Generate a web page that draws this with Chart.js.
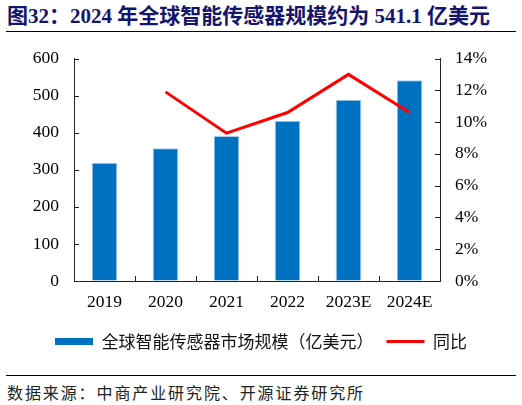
<!DOCTYPE html>
<html>
<head>
<meta charset="utf-8">
<script src="https://cdn.jsdelivr.net/npm/chart.js@4/dist/chart.umd.min.js"></script>
<style>
    body { margin: 0; width: 522px; height: 405px; background: #fff; position: relative; overflow: hidden; }
    #title { position: absolute; left: 7px; top: 3px; font: bold 21px "Liberation Serif", "Noto Sans CJK SC"; color: #14146e; white-space: nowrap; line-height: 26px; }
    .rule { position: absolute; left: 6px; width: 510px; height: 0; border-top: 1.5px solid #000; }
    #chartbox { position: absolute; left: 0; top: 33px; width: 522px; height: 327px; }
    #source { position: absolute; left: 7px; top: 383px; font: 16px "Noto Sans CJK SC"; letter-spacing: 1.9px; color: #222; white-space: nowrap; line-height: 18px; }
</style>
</head>
<body>
<div id="title">图32：2024 年全球智能传感器规模约为 541.1 亿美元</div>
<div class="rule" style="top:31px"></div>
<div id="chartbox"><canvas id="grafico"></canvas></div>
<div class="rule" style="top:375px"></div>
<div id="source">数据来源：中商产业研究院、开源证券研究所</div>
<script>
var categorias = ['2019', '2020', '2021', '2022', '2023E', '2024E'];
var mercado = [319, 358, 391, 432, 489, 541.1];
var crecimiento = [null, 11.9, 9.3, 10.6, 13.0, 10.6];
var ticksIzq = [0, 100, 200, 300, 400, 500, 600];
var ticksDer = [0, 2, 4, 6, 8, 10, 12, 14];

var colorEje = '#222';
var fuenteEje = { family: 'Liberation Serif', size: 17.5 };

// marcas cortas hacia dentro del area, como en la figura original
var marcasInternas = {
    id: 'marcasInternas',
    afterDraw: function (chart) {
        var ctx = chart.ctx;
        var a = chart.chartArea;
        var x = chart.scales.x, y = chart.scales.y, y1 = chart.scales.y1;
        ctx.save();
        ctx.strokeStyle = colorEje;
        ctx.lineWidth = 1;
        ctx.beginPath();
        y.ticks.forEach(function (t) {
            var p = Math.round(y.getPixelForValue(t.value)) + 0.5;
            ctx.moveTo(a.left, p);
            ctx.lineTo(a.left + 5, p);
        });
        y1.ticks.forEach(function (t) {
            var p = Math.round(y1.getPixelForValue(t.value)) + 0.5;
            ctx.moveTo(a.right, p);
            ctx.lineTo(a.right - 5, p);
        });
        for (var i = 1; i < categorias.length; i++) {
            var p = Math.round((x.getPixelForTick(i - 1) + x.getPixelForTick(i)) / 2) + 0.5;
            ctx.moveTo(p, a.bottom);
            ctx.lineTo(p, a.bottom - 5);
        }
        ctx.stroke();
        ctx.restore();
    }
};

var ctx = document.getElementById('grafico').getContext('2d');
var grafico = new Chart(ctx, {
    data: {
        labels: categorias,
        datasets: [{
            type: 'bar',
            label: '全球智能传感器市场规模（亿美元）',
            data: mercado,
            yAxisID: 'y',
            backgroundColor: '#0070C0',
            borderColor: '#A9CDEB',
            borderWidth: 1,
            categoryPercentage: 1,
            barPercentage: 0.42,
            order: 1
        }, {
            type: 'line',
            label: '同比',
            data: crecimiento,
            yAxisID: 'y1',
            borderColor: '#FF0000',
            backgroundColor: '#FF0000',
            borderWidth: 3,
            pointRadius: 0,
            tension: 0,
            order: 0
        }]
    },
    options: {
        responsive: true,
        maintainAspectRatio: false,
        animation: false,
        layout: { padding: { top: 17, left: 0, right: 0, bottom: 0 } },
        plugins: {
            tooltip: { enabled: false },
            legend: {
                position: 'bottom',
                labels: {
                    font: { family: 'Noto Sans CJK SC', size: 17 },
                    color: '#111',
                    padding: 13,
                    boxHeight: 7,
                    usePointStyle: true,
                    pointStyleWidth: 38,
                    sort: function (a, b) { return a.datasetIndex - b.datasetIndex; },
                    generateLabels: function (chart) {
                        var items = Chart.defaults.plugins.legend.labels.generateLabels(chart);
                        items.forEach(function (it) {
                            if (it.datasetIndex === 0) {
                                it.pointStyle = 'rect';
                                it.lineWidth = 0;
                            } else {
                                it.pointStyle = 'line';
                                it.lineWidth = 3;
                                it.strokeStyle = '#FF0000';
                            }
                        });
                        return items;
                    }
                }
            }
        },
        scales: {
            x: {
                grid: { drawOnChartArea: false, drawTicks: false },
                border: { color: colorEje, width: 1 },
                ticks: { font: fuenteEje, color: '#000', padding: 11, maxRotation: 0 },
                afterFit: function (s) { s.height = 39; }
            },
            y: {
                position: 'left',
                min: 0,
                max: 600,
                grid: { drawOnChartArea: false, drawTicks: false },
                border: { color: colorEje, width: 1 },
                ticks: { font: fuenteEje, color: '#000', padding: 15 },
                afterBuildTicks: function (s) { s.ticks = ticksIzq.map(function (v) { return { value: v }; }); },
                afterFit: function (s) { s.width = 74; }
            },
            y1: {
                position: 'right',
                min: 0,
                max: 14,
                grid: { drawOnChartArea: false, drawTicks: false },
                border: { color: colorEje, width: 1 },
                ticks: {
                    font: fuenteEje, color: '#000', padding: 15,
                    callback: function (v) { return v + '%'; }
                },
                afterBuildTicks: function (s) { s.ticks = ticksDer.map(function (v) { return { value: v }; }); },
                afterFit: function (s) { s.width = 82; }
            }
        }
    },
    plugins: [marcasInternas]
});
</script>
</body>
</html>
